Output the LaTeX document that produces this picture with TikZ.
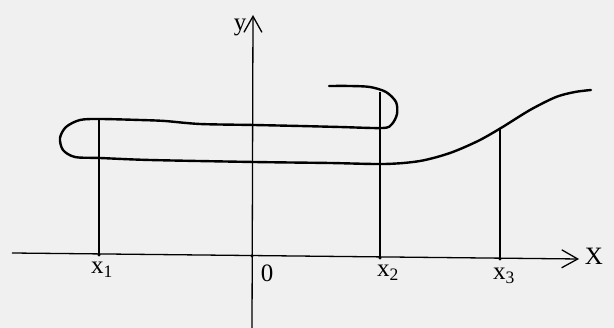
\documentclass[tikz,border=0pt]{standalone}
\usepackage{fontspec}
\setmainfont{Liberation Serif}
\usetikzlibrary{arrows.meta}
\begin{document}
\begin{tikzpicture}[x=1pt,y=-1pt,
  axis/.style={line width=1.3pt,-{Straight Barb[length=16pt,width=18pt,line width=1.3pt]}},
  guide/.style={line width=1.2pt},
  curvestyle/.style={line width=2.4pt,line join=round,line cap=round},
  lbl/.style={font=\fontsize{25}{27}\selectfont,inner sep=0pt},
  tick/.style={circle,fill=black,inner sep=0pt,minimum size=3.5pt}]
\fill[gray!12] (0,0) rectangle (614,328);
\useasboundingbox (0,0) rectangle (614,328);
% axes
\coordinate (xl) at (12,253);
\coordinate (xr) at (579,259);
\coordinate (yb) at (252,330);
\coordinate (yt) at (253,15);
\draw[axis] (xl) -- (xr);
\draw[axis] (yb) -- (yt);
\node[lbl] (X) at (594,256) {X};
\node[lbl] (Y) at (240,27) {y};
% ticks
\node[tick] (t1) at (99,255) {};
\node[tick] (t0) at (252,256) {};
\node[tick] (t2) at (380,258) {};
\node[tick] (t3) at (500,259) {};
\node[lbl] (l1) at (102,270) {x\textsubscript{1}};
\node[lbl] (l0) at (267,273) {0};
\node[lbl] (l2) at (388,273) {x\textsubscript{2}};
\node[lbl] (l3) at (504,276) {x\textsubscript{3}};
% guide lines
\coordinate (g1) at (99,119);
\coordinate (g2) at (380,92);
\coordinate (g3) at (500,129);
\draw[guide] (g1) -- (t1.center);
\draw[guide] (g2) -- (t2.center);
\draw[guide] (g3) -- (t3.center);
% curve
\draw[curvestyle] plot[smooth,tension=0.5] coordinates {
 (329,86) (350,86) (370,87) (386,92) (396,102) (397,114) (392,124) (383,128)
 (340,127) (300,126) (254,125) (200,124) (165,121) (140,120) (100,119)
 (80,120) (66,127) (60,138) (63,150) (75,157) (100,158) (150,160)
 (254,162) (330,163) (385,164) (420,161) (450,153) (478,141) (501,128)
 (530,110) (556,97) (575,92) (591,90)};
\end{tikzpicture}
\end{document}
